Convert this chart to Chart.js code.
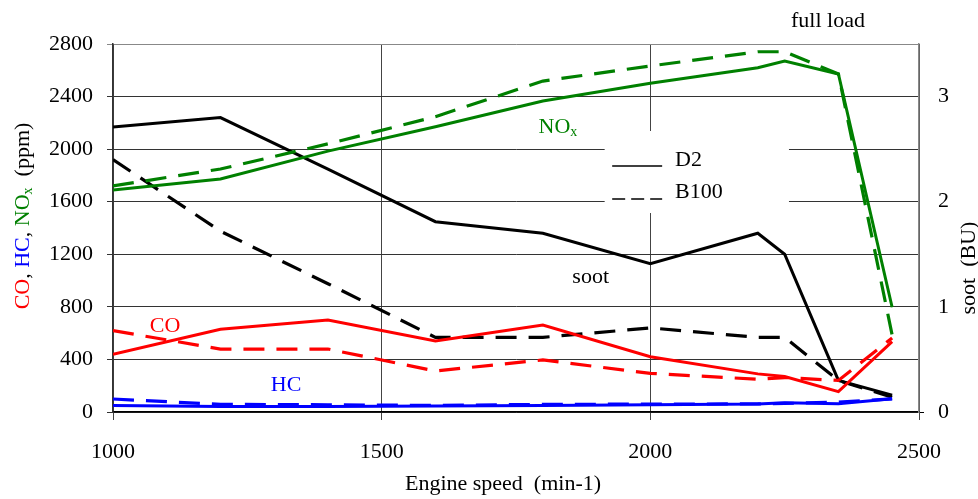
<!DOCTYPE html>
<html>
<head>
<meta charset="utf-8">
<script src="https://cdn.jsdelivr.net/npm/chart.js@4.4.1/dist/chart.umd.min.js"></script>
<style>
  html, body { margin: 0; padding: 0; background: #fff; }
  canvas { display: block; }
</style>
</head>
<body>
<canvas id="emChart" width="978" height="499"></canvas>
<script>
// engine speed (min-1)
const speed = [1000, 1200, 1400, 1600, 1800, 2000, 2200, 2250, 2350, 2450];

// ppm, left axis
const noxD2   = [1689, 1773, 1985, 2171, 2366, 2501, 2620, 2671, 2572, 797];
const noxB100 = [1720, 1849, 2040, 2247, 2518, 2633, 2741, 2741, 2572, 586];
const coD2    = [439, 629, 700, 540, 662, 421, 290, 270, 155, 535];
const coB100  = [619, 479, 479, 312, 396, 294, 249, 262, 240, 563];
const hcD2    = [50, 42, 42, 45, 50, 55, 60, 70, 62, 100];
const hcB100  = [99, 58, 55, 50, 58, 60, 62, 65, 75, 100];

// soot (BU), right axis
const sootD2   = [2.71, 2.80, 2.31, 1.81, 1.70, 1.41, 1.70, 1.50, 0.30, 0.16];
const sootB100 = [2.40, 1.72, 1.22, 0.71, 0.71, 0.80, 0.71, 0.71, 0.30, 0.14];

const speedTicks = [1000, 1500, 2000, 2500];
const ppmTicks = [0, 400, 800, 1200, 1600, 2000, 2400, 2800];
const buTicks = [0, 1, 2, 3];

const serif = "'Liberation Serif', 'Times New Roman', serif";
const pts = (ys) => speed.map((x, i) => ({ x: x, y: ys[i] }));
const plain = (v) => String(v);

function line(label, ys, color, dashed, axis) {
  return {
    label: label,
    data: pts(ys),
    borderColor: color,
    borderWidth: dashed ? 3.2 : 3,
    borderDash: dashed ? [21, 12] : [],
    pointRadius: 0,
    tension: 0,
    fill: false,
    yAxisID: axis || 'y'
  };
}

// text, legend and axis titles drawn on the canvas
const decor = {
  id: 'decor',
  beforeDatasetsDraw(chart) {
    const { ctx, scales: { x, y } } = chart;
    // legend box hides the grid behind it
    const l = x.getPixelForValue(1915), r = x.getPixelForValue(2258);
    const t = y.getPixelForValue(2138), b = y.getPixelForValue(1514);
    ctx.save();
    ctx.fillStyle = '#fff';
    ctx.fillRect(l, t, r - l, b - t);
    ctx.restore();
  },
  afterDatasetsDraw(chart) {
    const { ctx, chartArea, scales: { x, y } } = chart;
    const px = (v) => x.getPixelForValue(v);
    const py = (v) => y.getPixelForValue(v);
    ctx.save();
    ctx.textBaseline = 'alphabetic';

    const put = (s, cx, by, color, size, align) => {
      ctx.font = size + 'px ' + serif;
      ctx.fillStyle = color;
      ctx.textAlign = align || 'center';
      ctx.fillText(s, cx, by);
    };

    // curve labels
    ctx.font = '22px ' + serif;
    const noW = ctx.measureText('NO').width;
    ctx.font = '14px ' + serif;
    const subW = ctx.measureText('x').width;
    const nx = px(1828) - (noW + subW) / 2;
    put('NO', nx, py(2123), '#008000', 22, 'left');
    put('x', nx + noW, py(2123) + 3, '#008000', 14, 'left');
    put('soot', px(1889), py(981), '#000', 22);
    put('CO', px(1097), py(609), '#ff0000', 22);
    put('HC', px(1322), py(160), '#0000ff', 22);

    // legend
    ctx.strokeStyle = '#000';
    ctx.lineWidth = 1.4;
    ctx.beginPath();
    ctx.moveTo(px(1929), py(1872));
    ctx.lineTo(px(2022), py(1872));
    ctx.stroke();
    ctx.setLineDash([13, 6]);
    ctx.beginPath();
    ctx.moveTo(px(1929), py(1621));
    ctx.lineTo(px(2022), py(1621));
    ctx.stroke();
    ctx.setLineDash([]);
    put('D2', px(2046), py(1872), '#000', 22, 'left');
    put('B100', px(2046), py(1628), '#000', 22, 'left');

    // title above the plot
    put('full load', chartArea.right - 91, 27, '#000', 22);

    // x axis title
    put('Engine speed  (min-1)', 503, 490, '#000', 22);

    // right axis title, reads bottom to top
    ctx.save();
    ctx.translate(968, 268);
    ctx.rotate(-Math.PI / 2);
    put('soot  (BU)', 0, 7, '#000', 22);
    ctx.restore();

    // left axis title in several colours
    const parts = [
      ['CO', '#ff0000', 22, 0], [', ', '#000', 22, 0],
      ['HC', '#0000ff', 22, 0], [', ', '#000', 22, 0],
      ['NO', '#008000', 22, 0], ['x', '#008000', 14, 3],
      ['  (ppm)', '#000', 22, 0]
    ];
    let total = 0;
    parts.forEach(p => { ctx.font = p[2] + 'px ' + serif; p.push(ctx.measureText(p[0]).width); total += p[4]; });
    ctx.save();
    ctx.translate(22, 216);
    ctx.rotate(-Math.PI / 2);
    let cx = -total / 2;
    parts.forEach(p => {
      put(p[0], cx, 7 + p[3], p[1], p[2], 'left');
      cx += p[4];
    });
    ctx.restore();

    ctx.restore();
  }
};

Chart.defaults.color = '#000';
Chart.defaults.font.family = serif;
Chart.defaults.font.size = 22;

new Chart(document.getElementById('emChart'), {
  type: 'line',
  data: {
    datasets: [
      line('HC D2', hcD2, '#0000ff', false),
      line('HC B100', hcB100, '#0000ff', true),
      line('CO D2', coD2, '#ff0000', false),
      line('CO B100', coB100, '#ff0000', true),
      line('NOx D2', noxD2, '#008000', false),
      line('NOx B100', noxB100, '#008000', true),
      line('soot D2', sootD2, '#000000', false, 'y1'),
      line('soot B100', sootB100, '#000000', true, 'y1')
    ]
  },
  options: {
    responsive: false,
    animation: false,
    layout: { padding: { top: 44, left: 0, right: 0, bottom: 0 } },
    plugins: {
      legend: { display: false },
      tooltip: { enabled: false }
    },
    scales: {
      x: {
        type: 'linear',
        min: 1000,
        max: 2500,
        afterBuildTicks: (s) => { s.ticks = speedTicks.map(v => ({ value: v })); },
        afterFit: (s) => { s.height = 87; },
        ticks: { padding: 19, maxRotation: 0, callback: plain },
        grid: { color: '#444', lineWidth: 1, tickLength: 8 },
        border: { color: '#000', width: 1.5 }
      },
      y: {
        min: 0,
        max: 2800,
        afterBuildTicks: (s) => { s.ticks = ppmTicks.map(v => ({ value: v })); },
        afterFit: (s) => { s.width = 113; },
        ticks: { padding: 14, callback: plain },
        grid: {
          color: (c) => (c.tick && c.tick.value === 2800 ? '#888' : '#333'),
          lineWidth: 1,
          tickLength: 6
        },
        border: { color: '#333', width: 1.5 }
      },
      y1: {
        position: 'right',
        min: 0,
        max: 3.5,
        afterBuildTicks: (s) => { s.ticks = buTicks.map(v => ({ value: v })); },
        afterFit: (s) => { s.width = 59; },
        ticks: { padding: 14, callback: plain },
        grid: {
          drawOnChartArea: false,
          tickLength: 5,
          color: (c) => (c.tick && c.tick.value === 0 ? '#000' : 'rgba(0,0,0,0)')
        },
        border: { color: '#888', width: 1.5 }
      }
    }
  },
  plugins: [decor]
});
</script>
</body>
</html>
